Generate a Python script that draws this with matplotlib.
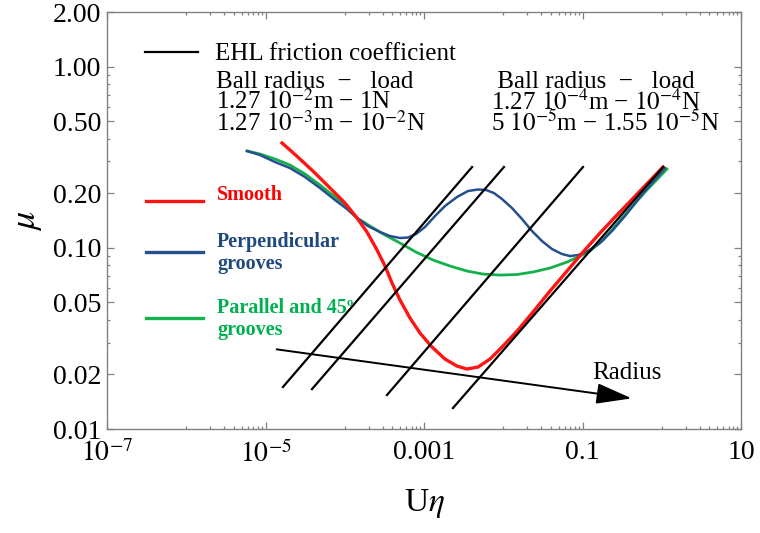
import matplotlib
matplotlib.use("Agg")
import matplotlib.pyplot as plt
from matplotlib.lines import Line2D
from matplotlib.ticker import FixedLocator, FixedFormatter, NullFormatter

# ---- data ----------------------------------------------------------------- #
smooth_x = [1.615e-5, 2.037e-5, 2.724e-5, 4.213e-5, 6.515e-5, 1.007e-4, 1.428e-4,
            1.909e-4, 2.552e-4, 3.221e-4, 3.947e-4, 4.980e-4, 6.657e-4, 8.90e-4,
            1.261e-3, 1.841e-3, 2.609e-3, 3.488e-3, 4.802e-3, 6.806e-3, 9.93e-3,
            0.01492, 0.02373, 0.03890, 0.06374, 0.1015, 0.1663, 0.2724, 0.5317, 1.037]
smooth_mu = [0.3785, 0.3464, 0.3089, 0.2585, 0.2137, 0.1766, 0.1460,
             0.1221, 0.0972, 0.0793, 0.0639, 0.05147, 0.04096, 0.03385,
             0.02833, 0.02432, 0.02225, 0.02142, 0.02197, 0.02432, 0.02869,
             0.03471, 0.04419, 0.05772, 0.0744, 0.0947, 0.1206, 0.1516, 0.2057, 0.2790]

perp_x = [5.843e-6, 8.522e-6, 1.318e-5, 2.037e-5, 3.150e-5, 4.871e-5, 7.534e-5,
          1.068e-4, 1.428e-4, 1.965e-4, 2.785e-4, 3.724e-4, 4.980e-4, 6.283e-4,
          7.926e-4, 1.029e-3, 1.377e-3, 1.841e-3, 2.609e-3, 3.591e-3, 4.802e-3,
          6.058e-3, 7.645e-3, 9.643e-3, 0.01289, 0.01724, 0.02306, 0.03083,
          0.04123, 0.05511, 0.06956, 0.08774, 0.1173, 0.1663, 0.2356, 0.3438,
          0.5317, 0.7534, 1.099]
perp_mu = [0.3420, 0.3250, 0.2973, 0.2754, 0.2457, 0.2137, 0.1835,
           0.1636, 0.1460, 0.1318, 0.1221, 0.1161, 0.1132, 0.1139,
           0.1191, 0.1302, 0.1497, 0.1700, 0.1906, 0.2057, 0.2097,
           0.2084, 0.2004, 0.1858, 0.1657, 0.1441, 0.1237, 0.1089,
           0.0984, 0.09236, 0.0900, 0.0912, 0.0960, 0.1062, 0.1237, 0.1497,
           0.1906, 0.2277, 0.2754]

par_x = [5.843e-6, 8.522e-6, 1.318e-5, 2.037e-5, 3.150e-5, 4.871e-5, 7.534e-5,
         1.068e-4, 1.428e-4, 2.083e-4, 3.221e-4, 4.980e-4, 7.926e-4, 1.299e-3,
         2.129e-3, 3.488e-3, 5.553e-3, 9.10e-3, 0.01492, 0.02373, 0.03890,
         0.06374, 0.09300, 0.1243, 0.1814, 0.2724, 0.3975, 0.6146, 1.165]
par_mu = [0.3420, 0.3292, 0.3089, 0.2861, 0.2553, 0.2220, 0.1906,
          0.1678, 0.1460, 0.1318, 0.1176, 0.1062, 0.0947, 0.0856,
          0.0793, 0.0744, 0.0716, 0.0707, 0.0712, 0.0735, 0.0773,
          0.0834, 0.0900, 0.0960, 0.1103, 0.1352, 0.1636, 0.2031, 0.2720]

# EHL friction coefficient lines, end points (U eta, mu)
ehl_x0 = [1.66e-5, 3.86e-5, 3.41e-4, 2.32e-3]
ehl_mu0 = [0.01705, 0.0166, 0.0154, 0.01305]
ehl_x1 = [4.04e-3, 1.02e-2, 0.1014, 1.04]
ehl_mu1 = [0.279, 0.279, 0.279, 0.279]

radius_x = [1.384e-5, 0.4176]
radius_mu = [0.02751, 0.01476]

xticks = [1e-7, 1e-5, 1e-3, 1e-1, 1e1]
xticklabels = ["$10^{-7}$", "$10^{-5}$", "0.001", "0.1", "10"]
yticks = [0.01, 0.02, 0.05, 0.1, 0.2, 0.5, 1.0, 2.0]
yticklabels = ["0.01", "0.02", "0.05", "0.10", "0.20", "0.50", "1.00", "2.00"]
yminor = [0.03, 0.04, 0.06, 0.07, 0.08, 0.09, 0.3, 0.4, 0.6, 0.7, 0.8, 0.9]

curve_names = ["Smooth", "Perpendicular\ngrooves", "Parallel and 45\u00ba\ngrooves"]
block_left = ["Ball radius  \u2212   load",
              "1.27 $10^{-2}$m \u2212 1N",
              "1.27 $10^{-3}$m \u2212 $10^{-2}$N"]
block_right = [" Ball radius  \u2212   load",
               "1.27 $10^{-4}$m \u2212 $10^{-4}$N",
               "5 $10^{-5}$m \u2212 1.55 $10^{-5}$N"]

RED = "#ff1414"
BLUE = "#25508d"
GREEN = "#14b04c"
GREY = "#808080"

# ---- figure ---------------------------------------------------------------- #
plt.rcParams.update({"font.family": "serif",
                     "font.serif": ["Liberation Serif", "DejaVu Serif"],
                     "mathtext.fontset": "stix"})
W, H = 760, 533
fig = plt.figure(figsize=(W / 100, H / 100), dpi=100)
ax = fig.add_axes([107 / W, 1 - 429 / H, 634 / W, 417 / H])
ax.set_xscale("log")
ax.set_yscale("log")
ax.set_xlim(1e-7, 10)
ax.set_ylim(0.01, 2.0)

for x0, x1, m0, m1 in zip(ehl_x0, ehl_x1, ehl_mu0, ehl_mu1):
    ax.plot([x0, x1], [m0, m1], color="black", lw=1.6, zorder=3)
ax.plot(par_x, par_mu, color=GREEN, lw=2.0, zorder=2)
ax.plot(perp_x, perp_mu, color=BLUE, lw=1.8, zorder=2)
ax.plot(smooth_x, smooth_mu, color=RED, lw=2.4, zorder=2)

ax.annotate("", xy=(radius_x[1], radius_mu[1]), xytext=(radius_x[0], radius_mu[0]),
            arrowprops=dict(arrowstyle="-|>,head_length=1.1,head_width=0.32",
                            mutation_scale=20, lw=1.4, color="black",
                            shrinkA=0, shrinkB=0), zorder=4)
ax.text(0.36, 0.0204, "Radius", fontsize=18, ha="center", va="center")

# axes styling
ax.xaxis.set_major_locator(FixedLocator(xticks))
ax.xaxis.set_major_formatter(FixedFormatter(xticklabels))
ax.xaxis.set_minor_locator(FixedLocator([k * 10.0 ** n for n in (-6, -4, -2, 0)
                                         for k in range(1, 10)]))
ax.xaxis.set_minor_formatter(NullFormatter())
ax.yaxis.set_major_locator(FixedLocator(yticks))
ax.yaxis.set_major_formatter(FixedFormatter(yticklabels))
ax.yaxis.set_minor_locator(FixedLocator(yminor))
ax.yaxis.set_minor_formatter(NullFormatter())
ax.tick_params(which="both", direction="in", top=True, right=True, color=GREY,
               labelsize=20, width=0.9)
ax.tick_params(which="major", length=5)
ax.tick_params(which="minor", length=2.5)
ax.tick_params(axis="x", which="major", pad=8)
ax.tick_params(axis="y", which="major", pad=4)
for sp in ax.spines.values():
    sp.set_color(GREY)
    sp.set_linewidth(1.0)

ax.set_xlabel("U$\\eta$", fontsize=24)
ax.xaxis.set_label_coords(0.5, -0.14)
ax.set_ylabel("$\\mu$", fontsize=26, rotation=90)
ax.yaxis.set_label_coords(-0.10, 0.5)


def fp(x, y):
    return x / W, 1 - y / H


# EHL legend entry and ball radius / load blocks (one text object per block)
fig.add_artist(Line2D([145 / W, 198 / W], [1 - 51.5 / H] * 2, color="black", lw=1.6))
fig.text(*fp(215, 60), "EHL friction coefficient", fontsize=18, va="baseline")
fig.text(*fp(216, 71), "\n".join(block_left), fontsize=18, va="top",
         linespacing=0.82)
fig.text(*fp(491, 71), "\n".join(block_right), fontsize=18, va="top",
         linespacing=0.82)

# curve legend
for name, col, tcol, ly, ty in zip(curve_names, [RED, BLUE, GREEN],
                                   ["#ff0000", "#1f497d", "#00b050"],
                                   [200.7, 251.7, 318], [195, 253, 319]):
    fig.add_artist(Line2D([146 / W, 203 / W], [1 - ly / H] * 2, color=col, lw=2.4))
    fig.text(*fp(217, ty), name, fontsize=14.5, fontweight="bold", color=tcol,
             va="center", linespacing=1.15)

fig.savefig("out.png", dpi=100)
